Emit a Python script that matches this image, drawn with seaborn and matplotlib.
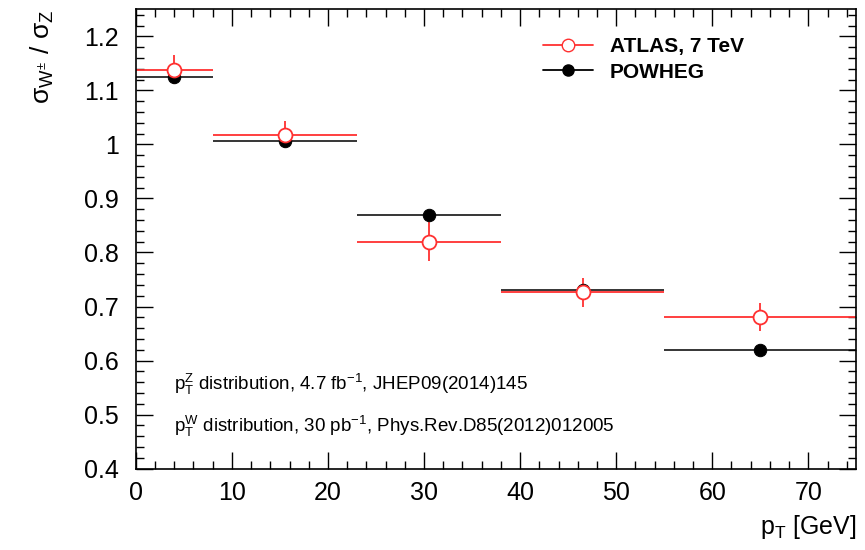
import matplotlib
matplotlib.use("Agg")
import matplotlib.pyplot as plt
from matplotlib.lines import Line2D
from matplotlib.ticker import MultipleLocator
import seaborn as sns
import pandas as pd

# bin edges in pT [GeV] and bin centres used for the markers
bin_lo = [0, 8, 23, 38, 55]
bin_hi = [8, 23, 38, 55, 75]
pt_center = [4, 15.5, 30.5, 46.5, 65]

atlas_ratio = [1.138, 1.018, 0.820, 0.726, 0.680]
atlas_err = [0.027, 0.025, 0.036, 0.026, 0.026]
powheg_ratio = [1.125, 1.006, 0.870, 0.730, 0.620]

df = pd.DataFrame({
    "pt": pt_center * 2,
    "lo": bin_lo * 2,
    "hi": bin_hi * 2,
    "ratio": atlas_ratio + powheg_ratio,
    "src": ["ATLAS, 7 TeV"] * 5 + ["POWHEG"] * 5,
})

sns.set_theme(style="ticks")
plt.rcParams["font.family"] = ["Liberation Sans", "DejaVu Sans"]
plt.rcParams["mathtext.fontset"] = "custom"
plt.rcParams["mathtext.rm"] = "Liberation Sans"
plt.rcParams["mathtext.it"] = "Liberation Sans"
plt.rcParams["text.color"] = "black"
plt.rcParams["axes.labelcolor"] = "black"
plt.rcParams["xtick.color"] = "black"
plt.rcParams["ytick.color"] = "black"
plt.rcParams["axes.edgecolor"] = "black"

fig = plt.figure(figsize=(8.65, 5.5), dpi=100)
ax = fig.add_axes([0.157, 0.148, 0.833, 0.835])

red = "#ff3030"
colors = {"ATLAS, 7 TeV": red, "POWHEG": "black"}

# horizontal bin-width bars
for src, g in df.groupby("src"):
    ax.hlines(g["ratio"], g["lo"], g["hi"], color=colors[src], lw=1.3,
              alpha=0.85 if src == "POWHEG" else 1, zorder=2)

# vertical ATLAS errors
ax.errorbar(pt_center, atlas_ratio, yerr=atlas_err, fmt="none",
            ecolor=red, elinewidth=1.3, capsize=0, zorder=3)

sns.scatterplot(data=df[df.src == "POWHEG"], x="pt", y="ratio", ax=ax,
                color="black", s=80, edgecolor="black", zorder=4, legend=False)
sns.scatterplot(data=df[df.src == "ATLAS, 7 TeV"], x="pt", y="ratio", ax=ax,
                facecolor="white", edgecolor=red, linewidth=1.3, s=100,
                zorder=5, legend=False)

ax.set_xlim(0, 75)
ax.set_ylim(0.4, 1.25)
ax.xaxis.set_major_locator(MultipleLocator(10))
ax.xaxis.set_minor_locator(MultipleLocator(2))
ax.yaxis.set_major_locator(MultipleLocator(0.1))
ax.yaxis.set_minor_locator(MultipleLocator(0.02))
ax.yaxis.set_major_formatter(matplotlib.ticker.FuncFormatter(
    lambda v, p: "1" if abs(v - 1) < 1e-6 else f"{v:.1f}"))
ax.tick_params(which="both", direction="in", top=True, right=True,
               labelsize=18, width=1)
ax.tick_params(which="major", length=12)
ax.tick_params(which="minor", length=6)
ax.tick_params(axis="x", pad=9)
ax.tick_params(axis="y", pad=12)
for s in ax.spines.values():
    s.set_linewidth(1.2)

ax.set_xlabel(r"p$_\mathregular{T}$ [GeV]", fontsize=18, loc="right", labelpad=6)
ax.set_ylabel(r"$\sigma_{W^{\pm}}$ / $\sigma_Z$", fontsize=19, loc="top", labelpad=20)

ax.text(4.0, 0.555, r"p$_\mathregular{T}^\mathregular{Z}$ distribution, 4.7 fb$^\mathregular{-1}$, JHEP09(2014)145",
        fontsize=13.5, va="center")
ax.text(4.0, 0.478, r"p$_\mathregular{T}^\mathregular{W}$ distribution, 30 pb$^\mathregular{-1}$, Phys.Rev.D85(2012)012005",
        fontsize=13.5, va="center")

handles = [
    Line2D([], [], color=red, marker="o", mfc="white", mec=red, ms=9, lw=1.3),
    Line2D([], [], color="black", marker="o", mfc="black", ms=8, lw=1.3),
]
leg = ax.legend(handles, ["ATLAS, 7 TeV", "POWHEG"], loc="upper right",
                bbox_to_anchor=(0.87, 0.98), frameon=False,
                prop={"weight": "bold", "size": 15}, handlelength=2.4,
                labelspacing=0.3)

fig.savefig("out.png", dpi=100)
